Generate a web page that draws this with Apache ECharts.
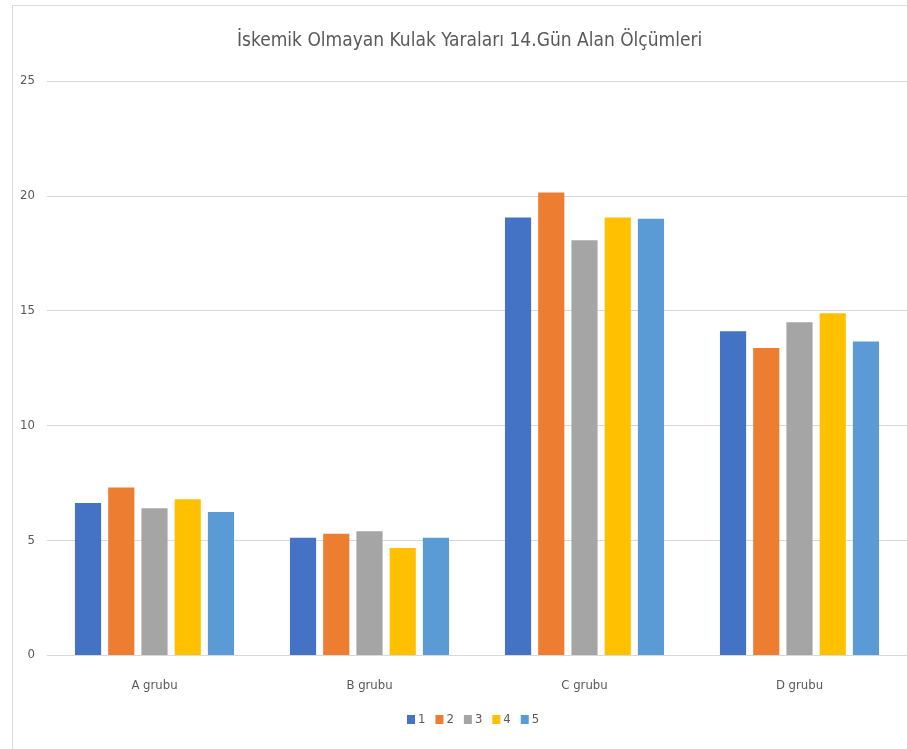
<!DOCTYPE html>
<html>
<head>
<meta charset="utf-8">
<script src="https://cdn.jsdelivr.net/npm/echarts@6/dist/echarts.min.js"></script>
<style>
  html, body { margin: 0; padding: 0; background: #fff; }
  #chart { width: 907px; height: 749px; }
</style>
</head>
<body>
<div id="chart"></div>
<script>
const categories = ["A grubu", "B grubu", "C grubu", "D grubu"];
const seriesNames = ["1", "2", "3", "4", "5"];
const s1 = [6.62, 5.11, 19.06, 14.10];
const s2 = [7.30, 5.28, 20.14, 13.37];
const s3 = [6.39, 5.39, 18.06, 14.49];
const s4 = [6.78, 4.66, 19.06, 14.88];
const s5 = [6.23, 5.11, 19.00, 13.65];
const yTicks = [0, 5, 10, 15, 20, 25];

const values = [s1, s2, s3, s4, s5];
const colors = ["#4472C4", "#ED7D31", "#A5A5A5", "#FFC000", "#5B9BD5"];
const font = "'Liberation Sans Narrow', 'DejaVu Sans Condensed', sans-serif";

const chart = echarts.init(document.getElementById("chart"));
chart.setOption({
  animation: false,
  color: colors,
  textStyle: { fontFamily: font },
  title: {
    text: "İskemik Olmayan Kulak Yaraları 14.Gün Alan Ölçümleri",
    left: 232,
    top: 27,
    textStyle: { fontSize: 19, fontWeight: "normal", color: "#595959", fontFamily: font }
  },
  graphic: [{
    type: "rect",
    shape: { x: 12.5, y: 5.5, width: 2000, height: 2000 },
    style: { fill: "none", stroke: "#d9d9d9", lineWidth: 1 },
    silent: true
  }],
  legend: {
    data: seriesNames,
    bottom: 18,
    left: 402,
    itemWidth: 8,
    itemHeight: 9,
    itemGap: 10,
    icon: "rect",
    textStyle: { fontSize: 13, color: "#595959", padding: [0, 0, 0, -2] }
  },
  grid: { left: 47, right: 0, top: 81, bottom: 94 },
  xAxis: {
    type: "category",
    data: categories,
    axisLine: { lineStyle: { color: "#d9d9d9" } },
    axisTick: { show: false },
    axisLabel: { color: "#595959", fontSize: 13, margin: 24 }
  },
  yAxis: {
    type: "value",
    min: yTicks[0],
    max: yTicks[yTicks.length - 1],
    interval: 5,
    axisLine: { show: false },
    axisTick: { show: false },
    splitLine: { lineStyle: { color: "#d9d9d9" } },
    axisLabel: { color: "#595959", fontSize: 13, margin: 12 }
  },
  series: seriesNames.map((name, i) => ({
    name: name,
    type: "bar",
    data: values[i],
    barGap: "27%",
    barCategoryGap: "26%"
  }))
});
</script>
</body>
</html>
